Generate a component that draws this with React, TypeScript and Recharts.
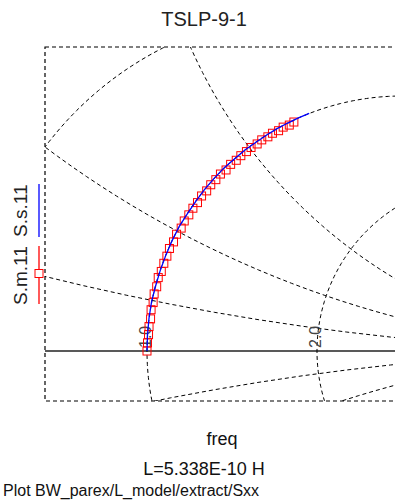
import { ReferenceArea, ReferenceDot, ReferenceLine, Scatter, ScatterChart, XAxis, YAxis } from "recharts";

const measRe = [0.0, 0.001, 0.003, 0.004, 0.007, 0.008, 0.012, 0.014, 0.019, 0.022, 0.028, 0.033, 0.039, 0.044, 0.052, 0.058, 0.067, 0.073, 0.082, 0.09, 0.099, 0.107, 0.117, 0.125, 0.135, 0.144, 0.155, 0.164, 0.175, 0.184, 0.195, 0.204, 0.216, 0.225, 0.237, 0.246, 0.258, 0.267, 0.279, 0.288];
const measIm = [0.0, 0.016, 0.032, 0.048, 0.063, 0.081, 0.095, 0.112, 0.126, 0.144, 0.156, 0.172, 0.186, 0.201, 0.214, 0.229, 0.241, 0.255, 0.267, 0.28, 0.291, 0.304, 0.314, 0.326, 0.336, 0.347, 0.355, 0.366, 0.374, 0.383, 0.391, 0.399, 0.406, 0.414, 0.42, 0.427, 0.432, 0.439, 0.443, 0.449];

// S.s.11 (simulated)
const simRe = [0.0, 0.001, 0.004, 0.009, 0.017, 0.026, 0.037, 0.049, 0.063, 0.079, 0.096, 0.113, 0.132, 0.151, 0.172, 0.192, 0.213, 0.234, 0.255, 0.276, 0.297, 0.318];
const simIm = [0.0, 0.032, 0.065, 0.097, 0.128, 0.158, 0.188, 0.216, 0.244, 0.269, 0.294, 0.317, 0.339, 0.359, 0.377, 0.394, 0.409, 0.423, 0.436, 0.447, 0.457, 0.466];

// smith grid
const resistanceCircles = [0, 0.2, 0.5, 1, 2, 5];
const reactanceCircles = [0.2, 0.5, 1, 2, 5, -0.2, -0.5, -1, -2, -5];
const realAxisLabels = [1, 2];

const xDomain: [number, number] = [-0.2, 0.5353];
const yDomain: [number, number] = [-0.098, 0.5961];

type Pt = { re: number; im: number };

function circle(cx: number, cy: number, radius: number, n = 360): Pt[] {
  const pts: Pt[] = [];
  for (let i = 0; i <= n; i++) {
    const t = (i / n) * Math.PI * 2;
    pts.push({ re: cx + radius * Math.cos(t), im: cy + radius * Math.sin(t) });
  }
  return pts;
}

const gridArcs: Pt[][] = [
  ...resistanceCircles.map((r) => circle(r / (1 + r), 0, 1 / (1 + r))),
  ...reactanceCircles.map((x) => circle(1, 1 / x, 1 / Math.abs(x))),
];

const measured: Pt[] = measRe.map((re, i) => ({ re, im: measIm[i] }));
const simulated: Pt[] = simRe.map((re, i) => ({ re, im: simIm[i] }));

const NoShape = () => null;

const Square = (props: any) => {
  const { cx, cy } = props;
  if (cx == null || cy == null) return null;
  return <rect x={cx - 4} y={cy - 4} width={8} height={8} fill="none" stroke="#ff0000" strokeWidth={1} />;
};

const rotLabel = (text: string) => (props: any) => {
  const vb = props.viewBox || {};
  const x = (vb.x ?? 0) + (vb.width ?? 0) / 2;
  const y = (vb.y ?? 0) + (vb.height ?? 0) / 2;
  return (
    <text transform={`translate(${x + 4},${y - 3}) rotate(-90)`} fontSize={16} fill="#444" fontFamily="Liberation Sans, Arial, sans-serif">
      {text}
    </text>
  );
};

export default function App() {
  const font = "Liberation Sans, Arial, sans-serif";
  return (
    <div style={{ position: "fixed", left: 0, top: 0, width: 395, height: 500, overflow: "hidden", background: "#fff" }}>
      <ScatterChart width={420} height={500} margin={{ top: 47, right: 0, bottom: 99, left: 45 }}>
        <XAxis type="number" dataKey="re" domain={xDomain} allowDataOverflow hide />
        <YAxis type="number" dataKey="im" domain={yDomain} allowDataOverflow hide />
        <ReferenceArea x1={xDomain[0]} x2={xDomain[1]} y1={yDomain[0]} y2={yDomain[1]} fill="none" fillOpacity={0} stroke="#000" strokeWidth={1.2} strokeDasharray="4 3" />
        {gridArcs.map((arc, i) => (
          <Scatter
            key={i}
            data={arc}
            line={{ stroke: "#000", strokeWidth: 1, strokeDasharray: "4 3" }}
            shape={NoShape}
            isAnimationActive={false}
          />
        ))}
        <ReferenceLine y={0} stroke="#222" strokeWidth={1.3} />
        {realAxisLabels.map((r) => (
          <ReferenceDot key={r} x={(r - 1) / (r + 1)} y={0} r={1} fill="none" stroke="none" label={{ content: rotLabel(r.toFixed(1)) }} />
        ))}
        <Scatter name="S.m.11" data={measured} shape={Square} isAnimationActive={false} />
        <Scatter name="S.s.11" data={simulated} line={{ stroke: "#0000ff", strokeWidth: 1.3 }} shape={NoShape} isAnimationActive={false} />
      </ScatterChart>

      <svg width={395} height={500} style={{ position: "absolute", left: 0, top: 0, pointerEvents: "none" }} fontFamily={font}>
        <text x={204} y={26} textAnchor="middle" fontSize={20} fill="#222">TSLP-9-1</text>
        <text x={222} y={445} textAnchor="middle" fontSize={18} fill="#111">freq</text>
        <text x={204} y={475} textAnchor="middle" fontSize={18} fill="#111">L=5.338E-10 H</text>
        <text x={3} y={496} fontSize={16} fill="#111">Plot BW_parex/L_model/extract/Sxx</text>

        <text transform="translate(26.5,305) rotate(-90)" fontSize={19} fill="#222">S.m.11</text>
        <line x1={39} y1={246} x2={39} y2={304} stroke="#ff0000" strokeWidth={1.3} />
        <rect x={35} y={269.5} width={8} height={8} fill="#fff" stroke="#ff0000" strokeWidth={1} />
        <text transform="translate(26.5,237) rotate(-90)" fontSize={19} fill="#222">S.s.11</text>
        <line x1={39} y1={184} x2={39} y2={237} stroke="#0000ff" strokeWidth={1.3} />
      </svg>
    </div>
  );
}
